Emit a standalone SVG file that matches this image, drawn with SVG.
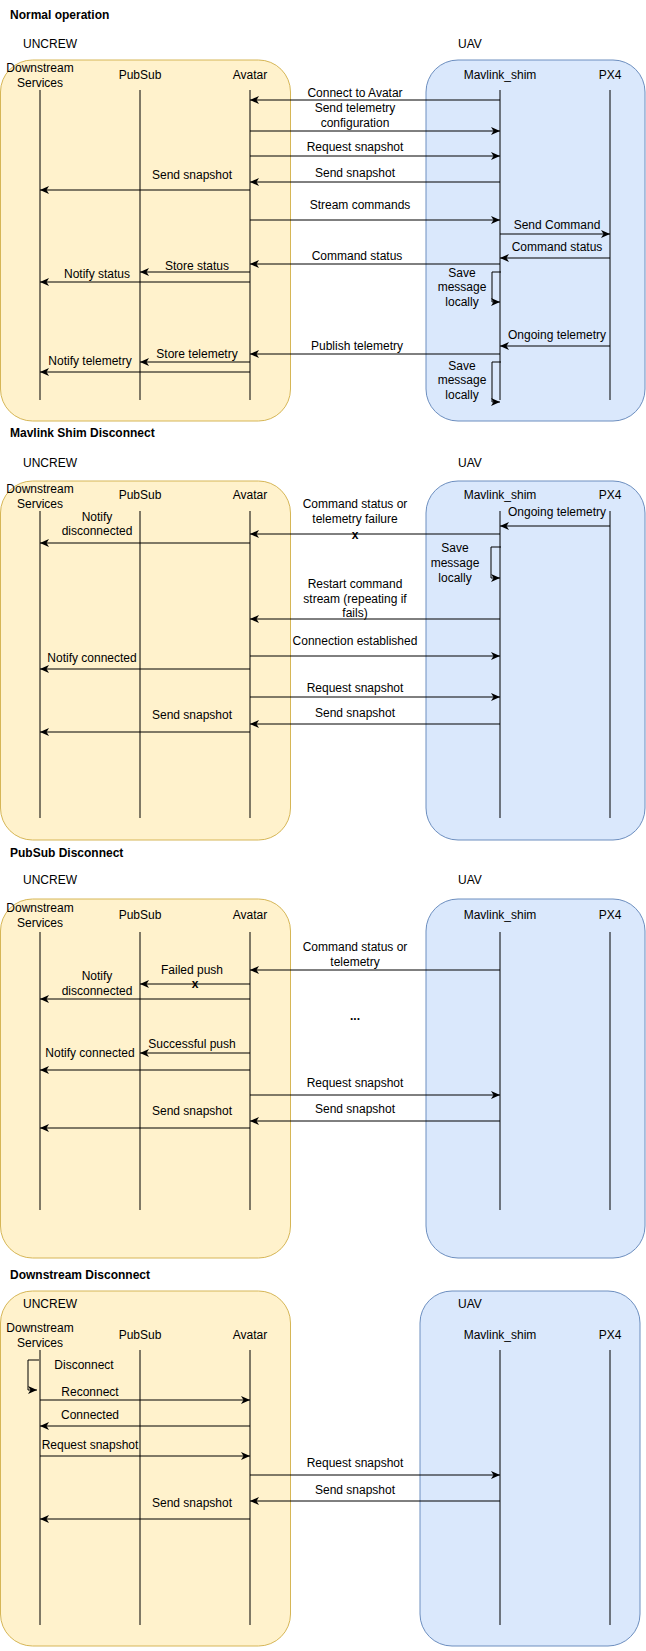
<svg xmlns="http://www.w3.org/2000/svg" width="646" height="1651" viewBox="0 0 646 1651">
<style>
text{font-family:"Liberation Sans",Arial,sans-serif;font-size:12px;fill:#000}
.t{font-weight:bold}
.m{text-anchor:middle}
.y{fill:#fff2cc;stroke:#d6b656}
.b{fill:#dae8fc;stroke:#6c8ebf}
.ll{stroke:#000;stroke-width:1}
.a{stroke:#000;stroke-width:1;fill:none;marker-end:url(#ah)}
</style>
<defs>
<marker id="ah" viewBox="0 0 10 8" refX="9" refY="4" markerWidth="10" markerHeight="8" markerUnits="userSpaceOnUse" orient="auto"><path d="M0,0 L9,4 L0,8 L2.5,4 z" fill="#000"/></marker>
</defs>
<rect width="646" height="1651" fill="#fff"/>

<!-- Section 1 -->
<g id="s1">
<text class="t" x="10" y="19">Normal operation</text>
<g id="s1-uncrew"><rect class="y" x="0.5" y="60" width="290" height="361" rx="32"/><text x="23" y="48">UNCREW</text></g>
<g id="s1-uav"><rect class="b" x="426" y="60" width="219" height="361" rx="32"/><text x="458" y="48">UAV</text></g>
<g id="s1-ds"><text class="m" x="40" y="72">Downstream</text><text class="m" x="40" y="87">Services</text><line class="ll" x1="40" y1="90" x2="40" y2="400"/></g>
<g id="s1-ps"><text class="m" x="140" y="79">PubSub</text><line class="ll" x1="140" y1="90" x2="140" y2="400"/></g>
<g id="s1-av"><text class="m" x="250" y="79">Avatar</text><line class="ll" x1="250" y1="90" x2="250" y2="400"/></g>
<g id="s1-ms"><text class="m" x="500" y="79">Mavlink_shim</text><line class="ll" x1="500" y1="90" x2="500" y2="400"/></g>
<g id="s1-px"><text class="m" x="610" y="79">PX4</text><line class="ll" x1="610" y1="90" x2="610" y2="400"/></g>
</g>

<!-- Section 2 -->
<g id="s2">
<text class="t" x="10" y="437">Mavlink Shim Disconnect</text>
<g id="s2-uncrew"><rect class="y" x="0.5" y="481" width="290" height="359" rx="32"/><text x="23" y="467">UNCREW</text></g>
<g id="s2-uav"><rect class="b" x="426" y="481" width="219" height="359" rx="32"/><text x="458" y="467">UAV</text></g>
<g id="s2-ds"><text class="m" x="40" y="493">Downstream</text><text class="m" x="40" y="508">Services</text><line class="ll" x1="40" y1="511" x2="40" y2="818"/></g>
<g id="s2-ps"><text class="m" x="140" y="499">PubSub</text><line class="ll" x1="140" y1="511" x2="140" y2="818"/></g>
<g id="s2-av"><text class="m" x="250" y="499">Avatar</text><line class="ll" x1="250" y1="511" x2="250" y2="818"/></g>
<g id="s2-ms"><text class="m" x="500" y="499">Mavlink_shim</text><line class="ll" x1="500" y1="511" x2="500" y2="818"/></g>
<g id="s2-px"><text class="m" x="610" y="499">PX4</text><line class="ll" x1="610" y1="511" x2="610" y2="818"/></g>
</g>

<!-- Section 3 -->
<g id="s3">
<text class="t" x="10" y="857">PubSub Disconnect</text>
<g id="s3-uncrew"><rect class="y" x="0.5" y="899" width="290" height="359" rx="32"/><text x="23" y="884">UNCREW</text></g>
<g id="s3-uav"><rect class="b" x="426" y="899" width="219" height="359" rx="32"/><text x="458" y="884">UAV</text></g>
<g id="s3-ds"><text class="m" x="40" y="912">Downstream</text><text class="m" x="40" y="927">Services</text><line class="ll" x1="40" y1="932" x2="40" y2="1210"/></g>
<g id="s3-ps"><text class="m" x="140" y="919">PubSub</text><line class="ll" x1="140" y1="932" x2="140" y2="1210"/></g>
<g id="s3-av"><text class="m" x="250" y="919">Avatar</text><line class="ll" x1="250" y1="932" x2="250" y2="1210"/></g>
<g id="s3-ms"><text class="m" x="500" y="919">Mavlink_shim</text><line class="ll" x1="500" y1="932" x2="500" y2="1210"/></g>
<g id="s3-px"><text class="m" x="610" y="919">PX4</text><line class="ll" x1="610" y1="932" x2="610" y2="1210"/></g>
</g>

<!-- Section 4 -->
<g id="s4">
<text class="t" x="10" y="1279">Downstream Disconnect</text>
<g id="s4-uncrew"><rect class="y" x="0.5" y="1291" width="290" height="355" rx="32"/><text x="23" y="1308">UNCREW</text></g>
<g id="s4-uav"><rect class="b" x="420" y="1291" width="220" height="355" rx="32"/><text x="458" y="1308">UAV</text></g>
<g id="s4-ds"><text class="m" x="40" y="1332">Downstream</text><text class="m" x="40" y="1347">Services</text><line class="ll" x1="40" y1="1350" x2="40" y2="1625"/></g>
<g id="s4-ps"><text class="m" x="140" y="1339">PubSub</text><line class="ll" x1="140" y1="1350" x2="140" y2="1625"/></g>
<g id="s4-av"><text class="m" x="250" y="1339">Avatar</text><line class="ll" x1="250" y1="1350" x2="250" y2="1625"/></g>
<g id="s4-ms"><text class="m" x="500" y="1339">Mavlink_shim</text><line class="ll" x1="500" y1="1350" x2="500" y2="1625"/></g>
<g id="s4-px"><text class="m" x="610" y="1339">PX4</text><line class="ll" x1="610" y1="1350" x2="610" y2="1625"/></g>
</g>

<g id="connectors">
<!-- S1 -->
<line class="a" x1="500" y1="100" x2="250" y2="100"/>
<line class="a" x1="250" y1="131" x2="500" y2="131"/>
<line class="a" x1="250" y1="156" x2="500" y2="156"/>
<line class="a" x1="500" y1="182" x2="250" y2="182"/>
<line class="a" x1="250" y1="190" x2="40" y2="190"/>
<line class="a" x1="250" y1="220" x2="500" y2="220"/>
<line class="a" x1="500" y1="234" x2="610" y2="234"/>
<line class="a" x1="610" y1="258" x2="500" y2="258"/>
<line class="a" x1="500" y1="264" x2="250" y2="264"/>
<line class="a" x1="250" y1="272" x2="140" y2="272"/>
<line class="a" x1="250" y1="282" x2="40" y2="282"/>
<path class="a" d="M501,272 H492 V302 H500"/>
<line class="a" x1="610" y1="346" x2="500" y2="346"/>
<line class="a" x1="500" y1="354" x2="250" y2="354"/>
<line class="a" x1="250" y1="362" x2="140" y2="362"/>
<line class="a" x1="250" y1="372" x2="40" y2="372"/>
<path class="a" d="M501,362 H492 V402 H500"/>
<!-- S2 -->
<line class="a" x1="610" y1="526" x2="500" y2="526"/>
<line class="a" x1="500" y1="534" x2="250" y2="534"/>
<line class="a" x1="250" y1="543" x2="40" y2="543"/>
<path class="a" d="M501,547 H491 V578 H500"/>
<line class="a" x1="500" y1="619" x2="250" y2="619"/>
<line class="a" x1="250" y1="656" x2="500" y2="656"/>
<line class="a" x1="250" y1="669" x2="40" y2="669"/>
<line class="a" x1="250" y1="697" x2="500" y2="697"/>
<line class="a" x1="500" y1="724" x2="250" y2="724"/>
<line class="a" x1="250" y1="732" x2="40" y2="732"/>
<!-- S3 -->
<line class="a" x1="500" y1="970" x2="250" y2="970"/>
<line class="a" x1="250" y1="984" x2="140" y2="984"/>
<line class="a" x1="250" y1="999" x2="40" y2="999"/>
<line class="a" x1="250" y1="1053" x2="140" y2="1053"/>
<line class="a" x1="250" y1="1070" x2="40" y2="1070"/>
<line class="a" x1="250" y1="1095" x2="500" y2="1095"/>
<line class="a" x1="500" y1="1121" x2="250" y2="1121"/>
<line class="a" x1="250" y1="1128" x2="40" y2="1128"/>
<!-- S4 -->
<path class="a" d="M39,1360 H28 V1390 H37"/>
<line class="a" x1="40" y1="1400" x2="250" y2="1400"/>
<line class="a" x1="250" y1="1426" x2="40" y2="1426"/>
<line class="a" x1="40" y1="1456" x2="250" y2="1456"/>
<line class="a" x1="250" y1="1475" x2="500" y2="1475"/>
<line class="a" x1="500" y1="1501" x2="250" y2="1501"/>
<line class="a" x1="250" y1="1519" x2="40" y2="1519"/>
</g>

<g id="labels">
<text class="m" x="355" y="97">Connect to Avatar</text>
<text class="m" x="355" y="112">Send telemetry</text>
<text class="m" x="355" y="127">configuration</text>
<text class="m" x="355" y="151">Request snapshot</text>
<text class="m" x="355" y="177">Send snapshot</text>
<text class="m" x="192" y="179">Send snapshot</text>
<text class="m" x="360" y="209">Stream commands</text>
<text class="m" x="557" y="229">Send Command</text>
<text class="m" x="557" y="251">Command status</text>
<text class="m" x="357" y="260">Command status</text>
<text class="m" x="197" y="270">Store status</text>
<text class="m" x="97" y="278">Notify status</text>
<text class="m" x="462" y="277">Save</text>
<text class="m" x="462" y="291">message</text>
<text class="m" x="462" y="306">locally</text>
<text class="m" x="557" y="339">Ongoing telemetry</text>
<text class="m" x="357" y="350">Publish telemetry</text>
<text class="m" x="197" y="358">Store telemetry</text>
<text class="m" x="90" y="365">Notify telemetry</text>
<text class="m" x="462" y="370">Save</text>
<text class="m" x="462" y="384">message</text>
<text class="m" x="462" y="399">locally</text>

<text class="m" x="557" y="516">Ongoing telemetry</text>
<text class="m" x="355" y="508">Command status or</text>
<text class="m" x="355" y="523">telemetry failure</text>
<text class="m t" x="355" y="539">x</text>
<text class="m" x="97" y="521">Notify</text>
<text class="m" x="97" y="535">disconnected</text>
<text class="m" x="455" y="552">Save</text>
<text class="m" x="455" y="567">message</text>
<text class="m" x="455" y="582">locally</text>
<text class="m" x="355" y="588">Restart command</text>
<text class="m" x="355" y="603">stream (repeating if</text>
<text class="m" x="355" y="617">fails)</text>
<text class="m" x="355" y="645">Connection established</text>
<text class="m" x="92" y="662">Notify connected</text>
<text class="m" x="355" y="692">Request snapshot</text>
<text class="m" x="355" y="717">Send snapshot</text>
<text class="m" x="192" y="719">Send snapshot</text>

<text class="m" x="355" y="951">Command status or</text>
<text class="m" x="355" y="966">telemetry</text>
<text class="m" x="192" y="974">Failed push</text>
<text class="m t" x="195" y="988">x</text>
<text class="m" x="97" y="980">Notify</text>
<text class="m" x="97" y="995">disconnected</text>
<text class="m t" x="355" y="1020">...</text>
<text class="m" x="192" y="1048">Successful push</text>
<text class="m" x="90" y="1057">Notify connected</text>
<text class="m" x="355" y="1087">Request snapshot</text>
<text class="m" x="355" y="1113">Send snapshot</text>
<text class="m" x="192" y="1115">Send snapshot</text>

<text class="m" x="84" y="1369">Disconnect</text>
<text class="m" x="90" y="1396">Reconnect</text>
<text class="m" x="90" y="1419">Connected</text>
<text class="m" x="90" y="1449">Request snapshot</text>
<text class="m" x="355" y="1467">Request snapshot</text>
<text class="m" x="355" y="1494">Send snapshot</text>
<text class="m" x="192" y="1507">Send snapshot</text>
</g>
</svg>
